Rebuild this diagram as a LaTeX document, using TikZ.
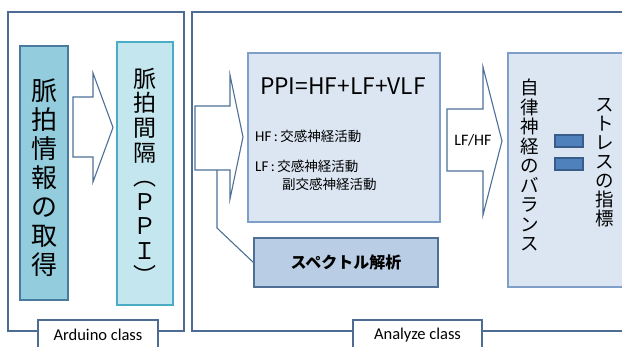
\documentclass[tikz,border=0pt]{standalone}
\usepackage{fontspec}
\setmainfont{Carlito}
\newfontfamily\jp{Noto Sans CJK JP}
\definecolor{framec}{HTML}{4D6C93}
\definecolor{arrowc}{HTML}{4F6F96}
\definecolor{getfill}{HTML}{93CDDD}
\definecolor{getdraw}{HTML}{4A7AA0}
\definecolor{ppifill}{HTML}{C4E6EE}
\definecolor{ppidraw}{HTML}{4BACC6}
\definecolor{lightfill}{HTML}{DCE6F2}
\definecolor{lightdraw}{HTML}{7F9FC8}
\definecolor{specfill}{HTML}{B9CDE5}
\definecolor{specdraw}{HTML}{4F6F96}
\definecolor{barfill}{HTML}{4F81BD}
\definecolor{bardraw}{HTML}{385D8A}
\begin{document}
\begin{tikzpicture}[x=1pt,y=-1pt,
  frame/.style={draw=framec, line width=1.2pt, inner sep=0pt},
  tag/.style={draw=framec, fill=white, line width=1.2pt, inner sep=0pt,
    font=\fontsize{16.5}{18}\selectfont},
  blockarrow/.style={draw=arrowc, fill=white, line width=1.1pt, line join=miter},
  box/.style={line width=1.2pt, inner sep=0pt},
  conn/.style={draw=arrowc, line width=1.1pt},
  vtxt/.style={align=center, inner sep=0pt}]
\useasboundingbox (0,0) rectangle (622,347);

% outer frames
\node[frame, minimum width=176, minimum height=319] (ard) at (96,171.5) {};
\node[frame, minimum width=448, minimum height=319] (ana) at (416,171.5) {};
\node[tag, minimum width=120, minimum height=30] (ardtag) at (98,335) {Arduino class};
\node[tag, minimum width=129, minimum height=30] (anatag) at (417.5,335) {Analyze class};

% left boxes
\node[box, draw=getdraw, fill=getfill, minimum width=48, minimum height=254] (get) at (44,173) {};
\node[box, draw=ppidraw, fill=ppifill, minimum width=56, minimum height=263] (ppi) at (145,173.5) {};
\node[vtxt, font=\jp\fontsize{26}{29}\selectfont] (gettxt) at (44,178)
  {脈\\拍\\情\\報\\の\\取\\得};
\node[vtxt, font=\jp\fontsize{23}{24.6}\selectfont] (ppitxt) at (145,176)
  {脈\\拍\\間\\隔\\︵\\Ｐ\\Ｐ\\Ｉ\\︶};

% arrow 1
\draw[blockarrow] (73,97) -- (93,97) -- (93,73) -- (113,127.5) -- (93,182) -- (93,157) -- (73,157) -- cycle;

% arrow 2
\draw[blockarrow] (195,106) -- (230,106) -- (230,75) -- (243,137) -- (230,199) -- (230,170) -- (195,170) -- cycle;

% analysis boxes
\node[box, draw=lightdraw, fill=lightfill, minimum width=192, minimum height=169] (calc) at (344,137.5) {};
\node[box, draw=specdraw, fill=specfill, minimum width=184, minimum height=49] (spec) at (346,262.5) {};
\node (calctitle) at (343,86) {\jp\fontsize{22.8}{24}\selectfont PPI=HF+LF+VLF};
\node[anchor=west, inner sep=0pt] (hf) at (255,136) {\fontsize{15}{16}\selectfont HF\,:\,\jp\fontsize{13.5}{16}\selectfont 交感神経活動};
\node[anchor=west, inner sep=0pt] (lf) at (255,166) {\fontsize{15}{16}\selectfont LF\,:\,\jp\fontsize{13.5}{16}\selectfont 交感神経活動};
\node[anchor=west, inner sep=0pt] (lf2) at (282,184) {\jp\fontsize{13.5}{16}\selectfont 副交感神経活動};
\node (spectxt) at (346,262) {\jp\bfseries\fontsize{16}{18}\selectfont スペクトル解析};

% connector from arrow to spectrum box
\coordinate (c1) at (217,170);
\coordinate (c2) at (217,228);
\draw[conn] (c1) -- (c2) -- (spec.west);

% arrow 3
\draw[blockarrow] (447,109) -- (483,109) -- (483,67) -- (502,141) -- (483,215) -- (483,171) -- (447,171) -- cycle;
\node (lfhf) at (473,140) {\fontsize{16}{18}\selectfont LF/HF};

% right box
\node[box, draw=lightdraw, fill=lightfill, minimum width=132, minimum height=234] (bal) at (574,170) {};
\node[vtxt, font=\jp\fontsize{18.5}{19.5}\selectfont] (baltxt) at (530,165)
  {自\\律\\神\\経\\の\\バ\\ラ\\ン\\ス};
\node[vtxt, font=\jp\fontsize{18.5}{19}\selectfont] (strtxt) at (605,163)
  {ス\\ト\\レ\\ス\\の\\指\\標};
\node[box, draw=bardraw, fill=barfill, minimum width=28, minimum height=12] (bar1) at (569,141) {};
\node[box, draw=bardraw, fill=barfill, minimum width=28, minimum height=12] (bar2) at (569,164) {};
\end{tikzpicture}
\end{document}
